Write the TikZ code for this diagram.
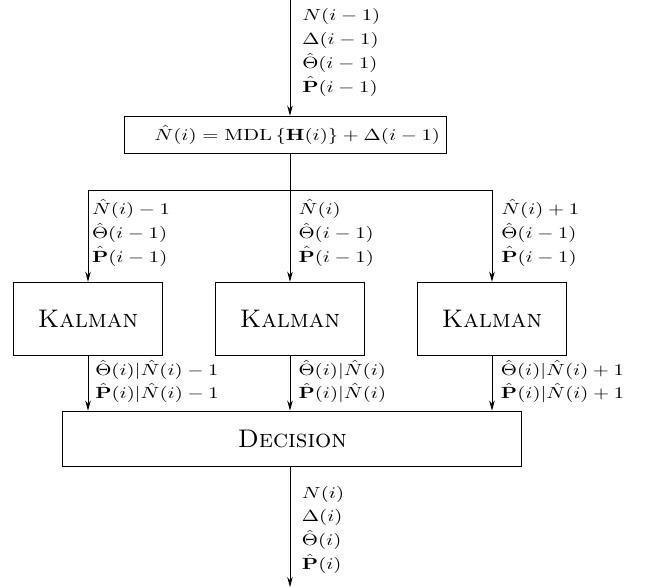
\documentclass[tikz,border=0pt]{standalone}
\usepackage{amsmath,amssymb}
\usepackage{graphicx}
\usepackage{tikz}
\usetikzlibrary{arrows.meta,positioning,calc}
\newcommand{\stretchx}[1]{\scalebox{1.28}[1]{#1}}
\newcommand{\siglist}[1]{\stretchx{\renewcommand{\arraystretch}{1.22}\begin{tabular}[t]{@{}l@{}}#1\end{tabular}}}
\tikzset{
  block/.style={draw=black, line width=0.6pt, inner sep=0pt, align=center},
  big/.style={font=\fontsize{15.7}{19}\selectfont\scshape},
  arrow/.style={-{Stealth[length=2.2mm,width=1.2mm]}, line width=0.55pt, draw=black},
  sig/.style={anchor=base west, inner sep=0pt}
}

\begin{document}
\begin{tikzpicture}[x=1cm,y=1cm]
  \useasboundingbox (0,0) rectangle (14.18,12.73);
  % blocks
  \node[block,minimum width=7.00cm,minimum height=0.80cm,text width=6.70cm,align=right] (mdl) at (6.19,9.81)
    {\stretchx{$\hat{N}(i)=\mathrm{MDL}\,\{\mathbf{H}(i)\}+\Delta(i-1)$}};
  \foreach \x/\n in {1.908/kl,6.287/kc,10.667/kr}
    {\node[block,big,minimum width=3.21cm,minimum height=1.58cm] (\n) at (\x,5.82) {Kalman};}
  \node[block,big,minimum width=9.95cm,minimum height=1.19cm] (dec) at (6.34,3.22) {Decision};
  % connectors
  \coordinate (in) at (6.287,12.73);
  \coordinate (out) at (6.287,0);
  \coordinate (split) at (6.287,8.607);
  \draw[arrow] (in) -- (in |- mdl.north);
  \draw[line width=0.55pt] (split |- mdl.south) -- (split);
  \draw[arrow] (split) -| (kl.north);
  \draw[arrow] (split) -| (kr.north);
  \draw[arrow] (split) -- (kc.north);
  \foreach \n in {kl,kc,kr}
    {\draw[arrow] (\n.south) -- (\n.south |- dec.north);}
  \draw[arrow] (out |- dec.south) -- (out);
  % signals
  \node[sig] (sigin) at (6.547,12.277)
    {\siglist{$N(i-1)$\\$\Delta(i-1)$\\$\hat{\Theta}(i-1)$\\$\hat{\mathbf{P}}(i-1)$}};
  \node[sig] (sigl) at (1.988,8.076)
    {\siglist{$\hat{N}(i)-1$\\$\hat{\Theta}(i-1)$\\$\hat{\mathbf{P}}(i-1)$}};
  \node[sig] (sigc) at (6.467,8.076)
    {\siglist{$\hat{N}(i)$\\$\hat{\Theta}(i-1)$\\$\hat{\mathbf{P}}(i-1)$}};
  \node[sig] (sigr) at (10.862,8.076)
    {\siglist{$\hat{N}(i)+1$\\$\hat{\Theta}(i-1)$\\$\hat{\mathbf{P}}(i-1)$}};
  \node[sig] (estl) at (2.060,4.596)
    {\siglist{$\hat{\Theta}(i)|\hat{N}(i)-1$\\$\hat{\mathbf{P}}(i)|\hat{N}(i)-1$}};
  \node[sig] (estc) at (6.467,4.596)
    {\siglist{$\hat{\Theta}(i)|\hat{N}(i)$\\$\hat{\mathbf{P}}(i)|\hat{N}(i)$}};
  \node[sig] (estr) at (10.855,4.596)
    {\siglist{$\hat{\Theta}(i)|\hat{N}(i)+1$\\$\hat{\mathbf{P}}(i)|\hat{N}(i)+1$}};
  \node[sig] (sigout) at (6.540,1.930)
    {\siglist{$N(i)$\\$\Delta(i)$\\$\hat{\Theta}(i)$\\$\hat{\mathbf{P}}(i)$}};
\end{tikzpicture}
\end{document}
